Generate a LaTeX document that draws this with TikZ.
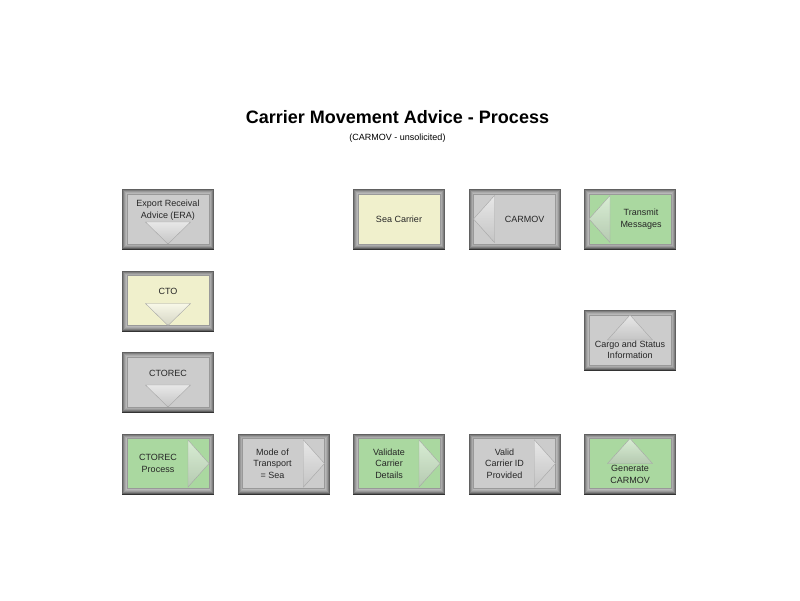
\documentclass[tikz,border=0pt]{standalone}
\usepackage{fontspec}
\setmainfont{Liberation Sans}
\usetikzlibrary{positioning}
\definecolor{boxgray}{RGB}{204,204,204}
\definecolor{boxgreen}{RGB}{170,216,160}
\definecolor{boxyellow}{RGB}{240,240,204}

\begin{document}
\begin{tikzpicture}[
    x=1pt, y=1pt,
    node distance=31.5pt and 33.5pt,
    procbox/.style={rectangle, draw=black!40, line width=0.5pt, minimum width=82pt, minimum height=50pt, inner sep=0pt, outer sep=0pt,
        preaction={draw=black!80, line width=10pt, transform canvas={yshift=-1pt}},
        preaction={draw=black!62, line width=10pt},
        preaction={draw=black!50, line width=8pt},
        preaction={draw=black!40, line width=6pt},
        preaction={draw=black!33, line width=4pt},
        preaction={draw=black!28, line width=2pt}},
    graybox/.style={procbox, fill=boxgray},
    greenbox/.style={procbox, fill=boxgreen},
    yellowbox/.style={procbox, fill=boxyellow},
    boxtext/.style={align=center, font=\fontsize{9}{11.5}\selectfont, inner sep=0pt, text=black!85},
    tri/.style={draw=black!35, line width=0.4pt, top color=white, bottom color=white!75!black, fill opacity=0.55}
]
\useasboundingbox (0,0) rectangle (800,-600);

% Title
\node[font=\bfseries\fontsize{18}{20}\selectfont] (title) at (397.5,-117) {Carrier Movement Advice - Process};
\node[font=\fontsize{9}{11}\selectfont] (subtitle) at (397.5,-138) {(CARMOV - unsolicited)};

% Left column
\node[graybox] (era) at (168,-219) {};
\node[yellowbox, below=of era] (cto) {};
\node[graybox, below=of cto] (ctorec) {};

% Bottom row
\node[greenbox, below=of ctorec] (ctorecp) {};
\node[graybox, right=of ctorecp] (mode) {};
\node[greenbox, right=of mode] (validate) {};
\node[graybox, right=of validate] (validid) {};
\node[greenbox, right=of validid] (gen) {};

% Right column
\node[graybox, above=73.5pt of gen] (cargo) {};

% Top row
\node[yellowbox] (seacarrier) at (validate |- era) {};
\node[graybox] (carmov) at (validid |- era) {};
\node[greenbox] (transmit) at (gen |- era) {};

% Triangles
\draw[tri] (era.south) -- ++(-22.5,22) -- ++(45,0) -- cycle;
\draw[tri] (cto.south) -- ++(-22.5,22) -- ++(45,0) -- cycle;
\draw[tri] (ctorec.south) -- ++(-22.5,22) -- ++(45,0) -- cycle;
\draw[tri] (ctorecp.east) -- ++(-21,23.5) -- ++(0,-47) -- cycle;
\draw[tri] (mode.east) -- ++(-21,23.5) -- ++(0,-47) -- cycle;
\draw[tri] (validate.east) -- ++(-21,23.5) -- ++(0,-47) -- cycle;
\draw[tri] (validid.east) -- ++(-21,23.5) -- ++(0,-47) -- cycle;
\draw[tri] (gen.north) -- ++(-22.5,-25) -- ++(45,0) -- cycle;
\draw[tri] (cargo.north) -- ++(-22.5,-25) -- ++(45,0) -- cycle;
\draw[tri] (carmov.west) -- ++(21,23.5) -- ++(0,-47) -- cycle;
\draw[tri] (transmit.west) -- ++(21,23.5) -- ++(0,-47) -- cycle;

% Texts
\node[boxtext, yshift=9] (era-txt) at (era) {Export Receival\\Advice (ERA)};
\node[boxtext, yshift=9] (cto-txt) at (cto) {CTO};
\node[boxtext, yshift=9] (ctorec-txt) at (ctorec) {CTOREC};
\node[boxtext, xshift=-10] (ctorecp-txt) at (ctorecp) {CTOREC\\Process};
\node[boxtext, xshift=-11] (mode-txt) at (mode) {Mode of\\Transport\\= Sea};
\node[boxtext, xshift=-10] (validate-txt) at (validate) {Validate\\Carrier\\Details};
\node[boxtext, xshift=-10] (validid-txt) at (validid) {Valid\\Carrier ID\\Provided};
\node[boxtext, yshift=-11] (gen-txt) at (gen) {Generate\\CARMOV};
\node[boxtext, yshift=-10] (cargo-txt) at (cargo) {Cargo and Status\\Information};
\node[boxtext] (seacarrier-txt) at (seacarrier) {Sea Carrier};
\node[boxtext, xshift=10] (carmov-txt) at (carmov) {CARMOV};
\node[boxtext, xshift=11] (transmit-txt) at (transmit) {Transmit\\Messages};

\end{tikzpicture}
\end{document}
